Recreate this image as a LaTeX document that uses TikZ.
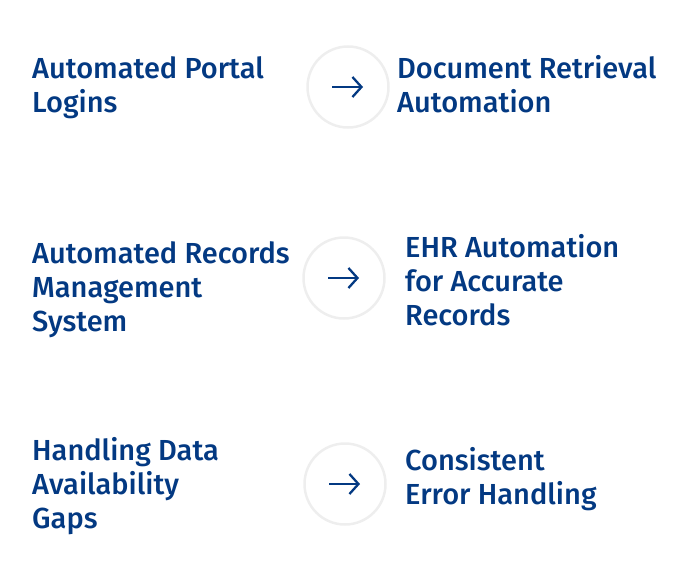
\documentclass[tikz,border=0pt]{standalone}
\usepackage{fontspec}
\setmainfont{Fira Sans Medium}
\usetikzlibrary{positioning, arrows.meta}
\definecolor{txtblue}{RGB}{3,57,130}
\definecolor{ringgray}{RGB}{238,238,238}

\begin{document}
\begin{tikzpicture}[
    x=1pt, y=-1pt,
    font=\fontsize{29}{34}\selectfont,
    % --- node styles ---
    item/.style  ={anchor=base west, align=left, inner sep=0pt, text=txtblue},
    ring/.style  ={draw=ringgray, line width=2.5pt, circle, minimum size=81pt, inner sep=0pt},
    % --- wire styles ---
    step arrow/.style={-{Straight Barb[length=9pt, width=20pt]}, line width=2.3pt, txtblue},
]
\useasboundingbox (0,0) rectangle (695,570);

% =============== row 1 (anchored at last baseline) ===============
\node[item] (portal)    at (32,112)  {Automated Portal\\Logins};
\node[ring] (ring1)     at (348,87)  {};
\node[item] (retrieval) at (397,112) {Document Retrieval\\Automation};

% =============== row 2 ===============
\node[item] (records)   at (32,331)  {Automated Records\\Management\\System};
\node[ring] (ring2)     at (344,278) {};
\node[item] (ehr)       at (405,325) {EHR Automation\\for Accurate\\Records};

% =============== row 3 ===============
\node[item] (gaps)      at (32,528)  {Handling Data\\Availability\\Gaps};
\node[ring] (ring3)     at (345,484) {};
\node[item] (errors)    at (405,504) {Consistent\\Error Handling};

% =============== arrows ===============
\foreach \r in {ring1, ring2, ring3}
  \draw[step arrow] ([xshift=-16pt]\r.center) -- ([xshift=15pt]\r.center);

\end{tikzpicture}
\end{document}
